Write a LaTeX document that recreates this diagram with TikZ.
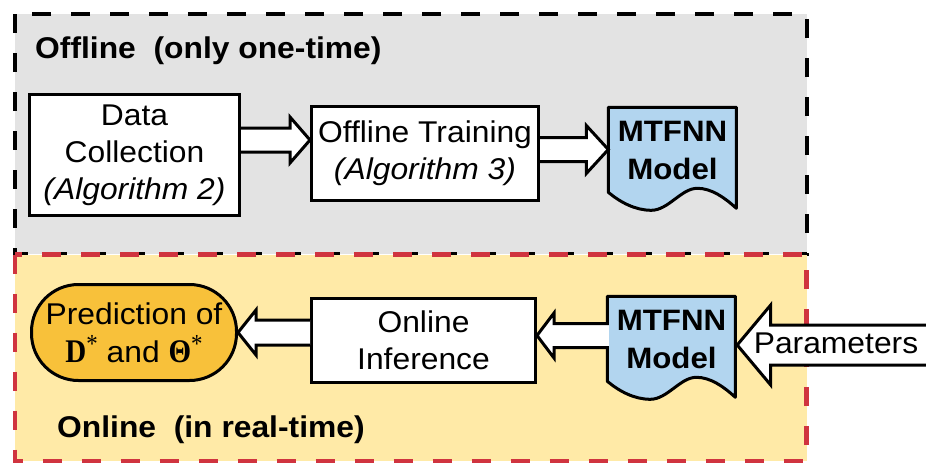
\documentclass[tikz,border=0pt]{standalone}
\usepackage{amsmath}
\usepackage[no-math]{fontspec}
\setmainfont[FakeStretch=1.06]{Liberation Sans}
\newfontfamily\symserif[FakeStretch=0.88]{Liberation Serif}
\usetikzlibrary{calc}

\definecolor{panelgray}{HTML}{E3E3E3}
\definecolor{panelyellow}{HTML}{FFEAA7}
\definecolor{panelred}{HTML}{D0343F}
\definecolor{modelblue}{HTML}{B2D5EF}
\definecolor{predorange}{HTML}{F8C13A}

\pgfdeclarelayer{panels}
\pgfdeclarelayer{shapes}
\pgfsetlayers{panels,shapes,main}

% bold serif symbol with a light superscript star
\newcommand{\starsym}[1]{{\symserif\bfseries\fontsize{33}{38}\selectfont #1}\raisebox{0.32em}{\fontsize{26}{28}\selectfont\symserif *}}

\begin{document}
\begin{tikzpicture}[x=1pt,y=-1pt,
  every node/.style={inner sep=0pt},
  bodytext/.style={font=\fontsize{30}{37}\selectfont, align=center},
  titletext/.style={font=\fontsize{30}{36}\selectfont\bfseries},
  procbox/.style={draw=black, line width=3pt, fill=white, bodytext},
  modeltext/.style={font=\fontsize{29.5}{38}\selectfont\bfseries, align=center,
    minimum width=128pt, minimum height=85pt},
  modelshape/.style={draw=black, line width=3pt, fill=modelblue, line join=round},
  predbox/.style={draw=black, line width=3pt, fill=predorange,
    rounded corners=47pt, font=\fontsize{30}{38}\selectfont, align=center},
  blockarrow/.style={draw=black, line width=3pt, fill=white, line join=miter},
  panel/.style={line width=4.5pt, dash pattern=on 19pt off 20pt},
  docshape/.pic={
    \draw[modelshape] (0,0) -- (128,0) -- (128,101)
      .. controls (116,90) and (103,81) .. (89,81)
      .. controls (73,81) and (60,103) .. (43,103)
      .. controls (27,103) and (12,95) .. (0,85) -- cycle;
  },
]
\useasboundingbox (0,0) rectangle (926,463);
\clip (0,0) rectangle (926,463);

% offline and online panels
\begin{pgfonlayer}{panels}
  \path[fill=panelgray] (15,14) rectangle (807,254);
  \draw[panel, black] (15,14) rectangle (807,254);
  \path[fill=panelyellow] (15,254.5) rectangle (806.5,461);
  \draw[panel, panelred] (15,254.5) rectangle (806.5,461);
\end{pgfonlayer}

\node[titletext, anchor=base west] (offlbl) at (35,58) {Offline\ \ (only one-time)};
\node[titletext, anchor=base west] (onlbl) at (57,437) {Online\ \ (in real-time)};

% offline pipeline
\node[procbox, minimum width=210pt, minimum height=121pt] (dc) at (134.5,155)
  {Data\\Collection\\\textit{(Algorithm 2)}};
\node[procbox, minimum width=227pt, minimum height=94pt] (ot) at (425,153.5)
  {Offline Training\\\textit{(Algorithm 3)}};
\node[modeltext] (m1) at (672.5,150) {MTFNN\\Model};

% online pipeline
\node[predbox, minimum width=205pt, minimum height=96pt] (pred) at (134,332.5)
  {Prediction of\\\starsym{D} and \starsym{Θ}};
\node[procbox, minimum width=224pt, minimum height=84pt] (inf) at (423.5,340.5)
  {Online\\Inference};
\node[modeltext] (m2) at (671.5,339) {MTFNN\\Model};
\coordinate (parend) at (945,345);

% document outlines behind the model labels
\begin{pgfonlayer}{shapes}
  \pic at (m1.north west) {docshape};
  \pic at (m2.north west) {docshape};
\end{pgfonlayer}

% block arrows
\draw[blockarrow] (dc.east |- 0,128) -- ($(ot.west |- 0,128)+(-20,0)$)
  -- ($(ot.west |- 0,117)+(-20,0)$) -- (ot.west |- 0,140)
  -- ($(ot.west |- 0,163)+(-20,0)$) -- ($(ot.west |- 0,152)+(-20,0)$)
  -- (dc.east |- 0,152);

\draw[blockarrow] (ot.east |- 0,137.5) -- ($(m1.west |- 0,137.5)+(-22,0)$)
  -- ($(m1.west |- 0,125.5)+(-22,0)$) -- (m1.west |- 0,149.5)
  -- ($(m1.west |- 0,173.5)+(-22,0)$) -- ($(m1.west |- 0,161.5)+(-22,0)$)
  -- (ot.east |- 0,161.5);

\draw[blockarrow] (inf.west |- 0,320) -- ($(pred.east |- 0,320)+(18,0)$)
  -- ($(pred.east |- 0,310)+(18,0)$) -- (pred.east |- 0,332.5)
  -- ($(pred.east |- 0,355)+(18,0)$) -- ($(pred.east |- 0,345)+(18,0)$)
  -- (inf.west |- 0,345);

\draw[blockarrow] ($(m2.west |- 0,323.5)+(1.5,0)$) -- ($(inf.east |- 0,323.5)+(17,0)$)
  -- ($(inf.east |- 0,313)+(17,0)$) -- (inf.east |- 0,335.5)
  -- ($(inf.east |- 0,358)+(17,0)$) -- ($(inf.east |- 0,347.5)+(17,0)$)
  -- ($(m2.west |- 0,347.5)+(1.5,0)$);

\draw[blockarrow] (parend |- 0,325) -- ($(m2.east |- 0,325)+(35,0)$)
  -- ($(m2.east |- 0,305)+(35,0)$) -- ($(m2.east |- 0,345)+(1.5,0)$)
  -- ($(m2.east |- 0,385)+(35,0)$) -- ($(m2.east |- 0,365)+(35,0)$)
  -- (parend |- 0,365);
\node[bodytext] (par) at (836,343) {Parameters};
\end{tikzpicture}
\end{document}
